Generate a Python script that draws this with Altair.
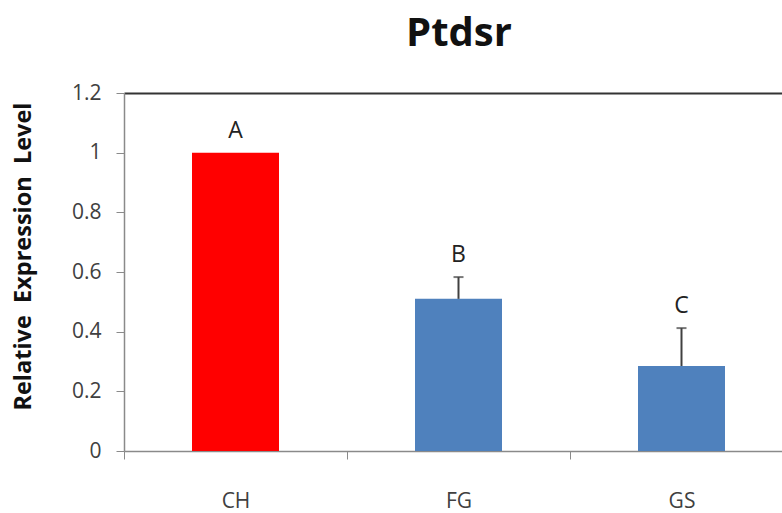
import altair as alt
import pandas as pd

# Relative expression of Ptdsr per sample group
groups = ["CH", "FG", "GS"]
means = [1.0, 0.51, 0.285]
errors = [0.0, 0.073, 0.127]
letters = ["A", "B", "C"]
bar_colors = ["#FF0000", "#4F81BD", "#4F81BD"]

df = pd.DataFrame({
    "group": groups,
    "mean": means,
    "err": errors,
    "letter": letters,
    "color": bar_colors,
})
df["upper"] = df["mean"] + df["err"]

label_font = "Open Sans"
nbsp2 = "\u00a0\u00a0"

# The category band runs a little past the right edge of the canvas.
x_scale = alt.Scale(paddingInner=0, paddingOuter=0, range=[0, 669])
y_scale = alt.Scale(domain=[0, 1.2], nice=False)

x_bottom = alt.X(
    "group:N",
    sort=groups,
    scale=x_scale,
    axis=alt.Axis(
        title=None,
        labelAngle=0,
        tickBand="extent",
        tickSize=8,
        labelPadding=31,
        labelFontSize=21,
        labelColor="#404040",
        labelFont=label_font,
        domainColor="#8a8a8a",
        tickColor="#8a8a8a",
        domainWidth=1.5,
    ),
)

# Top frame line drawn as a bare axis domain
x_top = alt.X(
    "group:N",
    sort=groups,
    scale=x_scale,
    axis=alt.Axis(
        orient="top",
        title=None,
        labels=False,
        ticks=False,
        domainColor="#333333",
        domainWidth=2,
    ),
)

bars = alt.Chart(df).mark_bar(size=87).encode(
    x=x_bottom,
    y=alt.Y(
        "mean:Q",
        scale=y_scale,
        axis=alt.Axis(
            title=f"Relative{nbsp2}Expression{nbsp2}Level",
            values=[0, 0.2, 0.4, 0.6, 0.8, 1.0, 1.2],
            format="~g",
            grid=False,
            tickSize=8,
            labelPadding=15,
            labelFontSize=21,
            labelColor="#404040",
            labelFont=label_font,
            domainColor="#8a8a8a",
            tickColor="#8a8a8a",
            domainWidth=1.5,
            titleFont=label_font,
            titleFontSize=23.5,
            titleFontWeight="bold",
            titleColor="#111111",
            titleX=-101,
            titleY=163,
            titleAngle=-90,
            titleAlign="center",
            titleBaseline="middle",
        ),
    ),
    color=alt.Color("color:N", scale=None),
)

whisker = alt.Chart(df).transform_filter("datum.err > 0").mark_rule(
    color="#404040", strokeWidth=2
).encode(
    x=x_top,
    y=alt.Y("mean:Q", scale=y_scale),
    y2="upper:Q",
)

cap = alt.Chart(df).transform_filter("datum.err > 0").mark_tick(
    color="#404040", thickness=2, size=10, orient="horizontal"
).encode(
    x=alt.X("group:N", sort=groups, scale=x_scale, axis=None),
    y=alt.Y("upper:Q", scale=y_scale),
)

text = alt.Chart(df).mark_text(
    baseline="alphabetic", dy=-15, fontSize=23, font=label_font, color="#222222"
).encode(
    x=alt.X("group:N", sort=groups, scale=x_scale, axis=None),
    y=alt.Y("upper:Q", scale=y_scale),
    text="letter:N",
)

chart = (
    alt.layer(bars, whisker, cap, text)
    .resolve_axis(x="independent")
    .properties(
        width=658,
        height=358,
        title=alt.TitleParams(
            "Ptdsr",
            fontSize=40,
            fontWeight="bold",
            font=label_font,
            color="#111111",
            anchor="middle",
            frame="group",
            offset=28,
            dx=6,
        ),
        padding={"left": 124, "top": 93, "right": 0, "bottom": 62},
        autosize=alt.AutoSizeParams(type="none"),
    )
    .configure(background="white")
    .configure_view(stroke="transparent", strokeWidth=0)
)

chart.save("out.html", embed_options={"renderer": "svg", "actions": False})
